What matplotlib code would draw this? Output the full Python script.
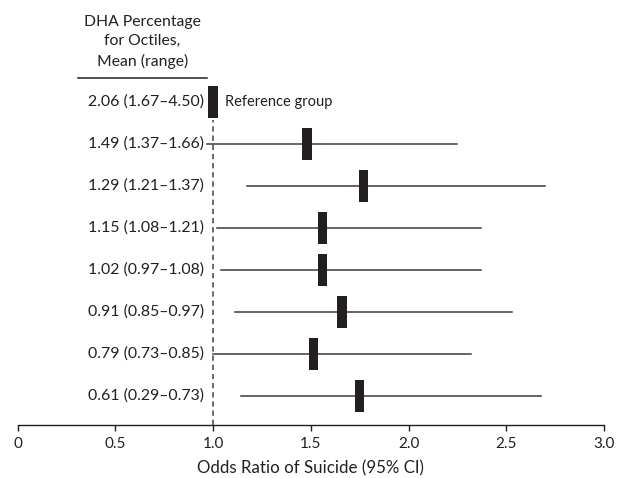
import matplotlib
matplotlib.use("Agg")
import matplotlib.pyplot as plt

plt.rcParams['font.family'] = ['Lato', 'DejaVu Sans']

labels = ["2.06 (1.67\u20134.50)", "1.49 (1.37\u20131.66)", "1.29 (1.21\u20131.37)",
          "1.15 (1.08\u20131.21)", "1.02 (0.97\u20131.08)", "0.91 (0.85\u20130.97)",
          "0.79 (0.73\u20130.85)", "0.61 (0.29\u20130.73)"]
odds = [1.00, 1.48, 1.77, 1.56, 1.56, 1.66, 1.515, 1.75]
ci_low = [None, 0.97, 1.175, 1.02, 1.04, 1.11, 1.00, 1.145]
ci_high = [None, 2.25, 2.70, 2.37, 2.37, 2.53, 2.32, 2.68]
xticks = [0, 0.5, 1.0, 1.5, 2.0, 2.5, 3.0]
xticklabels = ["0", "0.5", "1.0", "1.5", "2.0", "2.5", "3.0"]

W, H = 619, 478
fig = plt.figure(figsize=(W / 100, H / 100), dpi=100)
ax = fig.add_axes([17.7 / W, (H - 424.5) / H, 586.3 / W, 424.5 / H])
ax.set_xlim(0, 3)
ax.set_ylim(0.3226, 10.413)

n = len(labels)
ys = [n - i for i in range(n)]

# reference dashed line
ax.plot([1.0, 1.0], [0.3226, ys[0] - 0.45], color="#444444", lw=1.1,
        linestyle=(0, (3.5, 2.5)), zorder=1)

for y, o, lo, hi in zip(ys, odds, ci_low, ci_high):
    if lo is not None:
        ax.plot([lo, hi], [y, y], color="#3a3a3a", lw=1.1, zorder=2)
    ax.barh(y, 0.048, left=o - 0.024, height=0.76, color="#231f20", zorder=3)

ax.text(1.06, ys[0] - 0.02, "Reference group", ha="left", va="center", fontsize=10.5, color="#231f20")

for y, lab in zip(ys, labels):
    ax.text(0.953, y, lab, ha="right", va="center", fontsize=11.4, color="#231f20", clip_on=False)

ax.text(0.638, 9.415, "DHA Percentage\nfor Octiles,\nMean (range)", ha="center", va="center",
        fontsize=11.3, color="#231f20", linespacing=1.5, clip_on=False)
ax.plot([0.309, 0.97], [8.559, 8.559], color="#231f20", lw=1.1, clip_on=False)

for s in ["left", "top", "right"]:
    ax.spines[s].set_visible(False)
ax.spines["bottom"].set_color("#231f20")
ax.spines["bottom"].set_linewidth(1.0)
ax.set_yticks([])
ax.set_xticks(xticks)
ax.set_xticklabels(xticklabels, fontsize=11, color="#231f20")
ax.tick_params(axis="x", direction="out", length=4, width=1.0, color="#231f20", pad=5)
ax.set_xlabel("Odds Ratio of Suicide (95% CI)", fontsize=12.2, color="#231f20", labelpad=7)

fig.savefig("out.png", dpi=100)
